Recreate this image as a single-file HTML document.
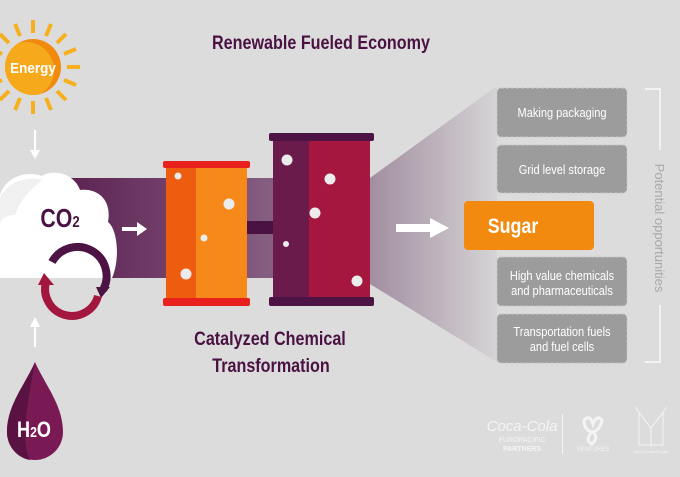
<!DOCTYPE html>
<html><head><meta charset="utf-8"><style>
html,body{margin:0;padding:0;background:#dcdcdc;}
svg{display:block}
text{font-family:"Liberation Sans",sans-serif;}
</style></head><body>
<svg width="680" height="477" viewBox="0 0 680 477" xmlns="http://www.w3.org/2000/svg">
<defs>
<linearGradient id="band" x1="0" x2="1" y1="0" y2="0">
<stop offset="0" stop-color="#5a1f50"/>
<stop offset="0.5" stop-color="#7a4d74"/>
<stop offset="1" stop-color="#9a8098"/>
</linearGradient>
<linearGradient id="fun" x1="0" x2="1" y1="0" y2="0">
<stop offset="0" stop-color="#a28ea0"/>
<stop offset="1" stop-color="#d6d4d6"/>
</linearGradient>
<clipPath id="sunc"><circle cx="33" cy="67" r="28"/></clipPath>
</defs>
<rect width="680" height="477" fill="#dcdcdc"/>
<rect x="55" y="178" width="320" height="100" fill="url(#band)"/>
<polygon points="370,178 497,86 497,362 370,284" fill="url(#fun)"/>
<g stroke="#f6b01e" stroke-width="4" stroke-linecap="butt">
<line x1="33" y1="33" x2="33" y2="20"/><line x1="33" y1="101" x2="33" y2="114"/>
<line x1="-1" y1="67" x2="-14" y2="67"/><line x1="67" y1="67" x2="80" y2="67"/>
<line x1="46" y1="36" x2="51" y2="24"/><line x1="20" y1="36" x2="15" y2="24"/>
<line x1="46" y1="98" x2="51" y2="110"/><line x1="20" y1="98" x2="15" y2="110"/>
<line x1="57" y1="43" x2="66" y2="34"/><line x1="9" y1="43" x2="0" y2="34"/>
<line x1="57" y1="91" x2="66" y2="100"/><line x1="9" y1="91" x2="0" y2="100"/>
<line x1="64" y1="54" x2="76" y2="49"/><line x1="64" y1="80" x2="76" y2="85"/>
<line x1="2" y1="54" x2="-10" y2="49"/><line x1="2" y1="80" x2="-10" y2="85"/>
</g>
<circle cx="33" cy="67" r="28" fill="#f28a10"/>
<g clip-path="url(#sunc)"><circle cx="26" cy="70" r="28" fill="#f7a91c"/></g>
<text x="33" y="73" text-anchor="middle" font-size="15" font-weight="bold" fill="#fff" transform="translate(33,0) scale(0.9,1) translate(-33,0)">Energy</text>
<g fill="#fff">
<rect x="34" y="130" width="2" height="22"/><polygon points="30,150 40,150 35,159"/>
<rect x="34" y="325" width="2" height="22"/><polygon points="30,327 40,327 35,317"/>
</g>
<path d="M0,195 C5,178 25,170 42,176 C55,168 75,175 80,190 C98,188 112,200 108,222 C118,230 120,260 112,278 L0,278 Z" fill="#fff"/>
<path d="M0,198 C8,180 30,176 42,180 C30,190 20,200 15,215 C5,215 0,220 0,225Z" fill="#f0f0f0"/>
<text x="60" y="227" text-anchor="middle" font-size="26" font-weight="bold" fill="#4a1242" transform="translate(60,0) scale(0.82,1) translate(-60,0)">CO<tspan font-size="16">2</tspan></text>
<path d="M52,262 A25,25 0 0 1 103,290" fill="none" stroke="#4d1344" stroke-width="8"/>
<polygon points="96,287 110,287 101,298" fill="#4d1344"/>
<path d="M98,296 A25,25 0 0 1 46,282" fill="none" stroke="#a3173f" stroke-width="8"/>
<polygon points="38,285 54,285 44,273" fill="#a3173f"/>
<rect x="122" y="227" width="16" height="4" fill="#fff"/><polygon points="137,222 147,229 137,236" fill="#fff"/>
<rect x="247" y="221" width="26" height="13" fill="#4a1242"/>
<rect x="166" y="168" width="81" height="130" fill="#f7891a"/>
<rect x="166" y="168" width="30" height="130" fill="#ee5c10"/>
<rect x="163" y="161" width="87" height="7" rx="2" fill="#e8201e"/>
<rect x="163" y="298" width="87" height="8" rx="2" fill="#e8201e"/>
<g fill="#ececec">
<circle cx="178" cy="176" r="3.5"/><circle cx="229" cy="204" r="5.5"/><circle cx="204" cy="238" r="3.5"/><circle cx="186" cy="274" r="5.5"/>
</g>
<rect x="273" y="141" width="97" height="156" fill="#a5173f"/>
<rect x="273" y="141" width="36" height="156" fill="#6b1a4c"/>
<rect x="269" y="133" width="105" height="8" rx="2" fill="#4d1344"/>
<rect x="269" y="297" width="105" height="9" rx="2" fill="#4d1344"/>
<g fill="#ececec">
<circle cx="287" cy="160" r="5.5"/><circle cx="330" cy="179" r="5.5"/><circle cx="315" cy="213" r="5.5"/><circle cx="286" cy="244" r="3"/><circle cx="357" cy="281" r="5.5"/>
</g>
<rect x="396" y="224" width="36" height="8" fill="#fff"/><polygon points="430,218 449,228 430,238" fill="#fff"/>
<g fill="#9c9c9c" stroke="#c8c8c8" stroke-width="1" stroke-dasharray="3,2">
<rect x="497" y="88" width="130" height="49" rx="4"/>
<rect x="497" y="145" width="130" height="48" rx="4"/>
<rect x="497" y="257" width="130" height="49" rx="4"/>
<rect x="497" y="314" width="130" height="49" rx="4"/>
</g>
<rect x="464" y="201" width="130" height="49" rx="4" fill="#f28a10"/>
<g fill="#fff" font-size="13" text-anchor="middle">
<text x="562" y="117" transform="translate(562,0) scale(0.85,1) translate(-562,0)">Making packaging</text>
<text x="562" y="174" transform="translate(562,0) scale(0.85,1) translate(-562,0)">Grid level storage</text>
<text x="562" y="280" transform="translate(562,0) scale(0.85,1) translate(-562,0)">High value chemicals</text>
<text x="562" y="295" transform="translate(562,0) scale(0.85,1) translate(-562,0)">and pharmaceuticals</text>
<text x="562" y="336" transform="translate(562,0) scale(0.85,1) translate(-562,0)">Transportation fuels</text>
<text x="562" y="351" transform="translate(562,0) scale(0.85,1) translate(-562,0)">and fuel cells</text>
<text x="513" y="233" font-size="21" font-weight="bold" transform="translate(513,0) scale(0.85,1) translate(-513,0)">Sugar</text>
</g>
<path d="M645,89 H660 V150 M660,305 V362 H645" fill="none" stroke="#fff" stroke-width="1.2"/>
<text transform="translate(655,228) rotate(90)" text-anchor="middle" font-size="13" fill="#a8a8a8">Potential opportunities</text>
<text x="321" y="49" text-anchor="middle" font-size="19" font-weight="bold" fill="#4a1242" transform="translate(321,0) scale(0.85,1) translate(-321,0)">Renewable Fueled Economy</text>
<text x="270" y="345" text-anchor="middle" font-size="19" font-weight="bold" fill="#4a1242" transform="translate(270,0) scale(0.85,1) translate(-270,0)">Catalyzed Chemical</text>
<text x="271" y="372" text-anchor="middle" font-size="19" font-weight="bold" fill="#4a1242" transform="translate(271,0) scale(0.85,1) translate(-271,0)">Transformation</text>
<path d="M35,362 C45,385 63,405 63,432 A28,28 0 0 1 7,432 C7,405 25,385 35,362Z" fill="#7a1a55"/>
<path d="M35,362 C25,385 7,405 7,432 A28,28 0 0 0 30,460 C20,440 28,400 35,362Z" fill="#5a1242"/>
<text x="34" y="437" text-anchor="middle" font-size="22" font-weight="bold" fill="#fff" transform="translate(34,0) scale(0.82,1) translate(-34,0)">H<tspan font-size="15">2</tspan>O</text>
<g fill="#f4f4f4">
<text x="522" y="431" text-anchor="middle" font-size="15" font-style="italic" font-family="Liberation Serif,serif">Coca-Cola</text>
<text x="522" y="442" text-anchor="middle" font-size="7">EUROPACIFIC</text>
<text x="522" y="451" text-anchor="middle" font-size="7" font-weight="bold">PARTNERS</text>
<rect x="562" y="414" width="1" height="40"/>
<text x="593" y="451" text-anchor="middle" font-size="6">VENTURES</text>
<text x="651" y="453" text-anchor="middle" font-size="3.5">Liquid Sunlight Project</text>
</g>
<path d="M584,420 q6,-6 9,4 q4,-10 9,-4 q-2,10 -9,12 q6,6 -1,12 q-8,-4 0,-12 q-8,-2 -8,-12Z" fill="none" stroke="#f4f4f4" stroke-width="3"/>
<path d="M635,407 L651,428 L667,407 M651,428 V446 M639,412 V445 H663 V412" fill="none" stroke="#f4f4f4" stroke-width="1"/>
</svg>
</body></html>
